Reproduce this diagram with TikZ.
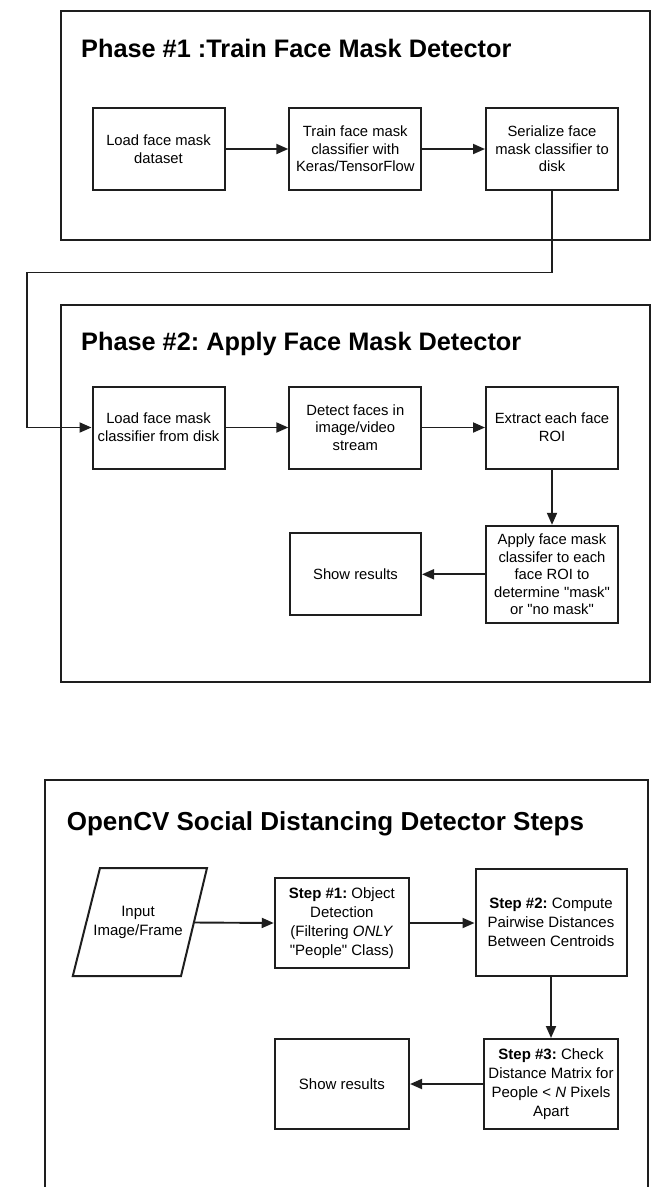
\documentclass[tikz,border=0pt]{standalone}
\usepackage{fontspec}
\setmainfont{Liberation Sans}[Ligatures=TeXOff]
\usetikzlibrary{arrows.meta}
\definecolor{ink}{HTML}{1E1E1E}
\begin{document}
\frenchspacing
\begin{tikzpicture}[x=1pt,y=-1pt,
  frame/.style={draw=ink,line width=2pt},
  box/.style={draw=ink,line width=2pt,fill=white,align=center,inner sep=2pt,
    font=\fontsize{14.8}{17.6}\selectfont},
  sbox/.style={box,font=\fontsize{15}{19}\selectfont},
  ttl/.style={anchor=base west,inner sep=0pt,font=\bfseries\fontsize{25.3}{30}\selectfont},
  arr/.style={draw=ink,line width=1.9pt,-{Triangle[length=12pt,width=10pt]}},
]
\useasboundingbox (0,0) rectangle (651,1187);

% ---------- Phase 1 ----------
\node[frame,anchor=north west,minimum width=589pt,minimum height=229pt,inner sep=0pt] (p1) at (60,10) {};
\node[ttl] (t1) at (81,57) {Phase \#1 :Train Face Mask Detector};
\node[box,minimum width=132pt,minimum height=82pt] (b1) at (158.5,149) {Load face mask\\dataset};
\node[box,minimum width=132pt,minimum height=82pt] (b2) at (355.3,149) {Train face mask\\classifier with\\Keras/TensorFlow};
\node[box,minimum width=132pt,minimum height=82pt] (b3) at (552,149) {Serialize face\\mask classifier to\\disk};
\draw[arr] (b1) -- (b2);
\draw[arr] (b2) -- (b3);

% ---------- Phase 2 ----------
\node[frame,anchor=north west,minimum width=589pt,minimum height=377pt,inner sep=0pt] (p2) at (60,304) {};
\node[ttl] (t2) at (81,350) {Phase \#2: Apply Face Mask Detector};
\node[box,minimum width=132pt,minimum height=82pt] (c1) at (158.5,427.5) {Load face mask\\classifier from disk};
\node[box,minimum width=132pt,minimum height=82pt] (c2) at (355.3,427.5) {Detect faces in\\image/video\\stream};
\node[box,minimum width=132pt,minimum height=82pt] (c3) at (552,427.5) {Extract each face\\ROI};
\node[box,minimum width=132pt,minimum height=97pt] (c4) at (552,574.3) {Apply face mask\\classifer to each\\face ROI to\\determine "mask"\\or "no mask"};
\node[box,minimum width=131pt,minimum height=82pt] (c5) at (355.5,574.3) {Show results};
\draw[arr] (c1) -- (c2);
\draw[arr] (c2) -- (c3);
\draw[arr] (c3) -- (c4);
\draw[arr] (c4) -- (c5);

% connector between phases
\coordinate (k1) at (552,272.5);
\coordinate (k2) at (27,272.5);
\draw[arr] (b3.south) -- (k1) -- (k2) |- (c1.west);

% ---------- Social distancing ----------
\draw[frame] (45,1195) -- (45,780) -- (648,780) -- (648,1195);
\node[ttl,font=\bfseries\fontsize{26}{30}\selectfont] (t3) at (66.6,830) {OpenCV Social Distancing Detector Steps};

\coordinate (q1) at (100,868);
\coordinate (q2) at (207,868);
\coordinate (q3) at (181,976);
\coordinate (q4) at (72.8,976);
\draw[frame,line join=miter] (q1) -- (q2) -- (q3) -- (q4) -- cycle;
\node[align=center,font=\fontsize{15}{19}\selectfont] (inp) at (138,922) {Input\\Image/Frame};
\coordinate (pr) at (194,922.5);

\node[sbox,minimum width=134.3pt,minimum height=90.6pt] (d1) at (341.9,923) {\textbf{Step \#1:} Object\\Detection\\(Filtering \textit{ONLY}\\"People" Class)};
\node[sbox,minimum width=151pt,minimum height=106.7pt] (d2) at (551,922.7) {\textbf{Step \#2:} Compute\\Pairwise Distances\\Between Centroids};
\node[sbox,minimum width=134pt,minimum height=90pt] (d3) at (551,1084) {\textbf{Step \#3:} Check\\Distance Matrix for\\People < \textit{N} Pixels\\Apart};
\node[sbox,minimum width=134.3pt,minimum height=90pt] (d4) at (341.9,1084) {Show results};

\draw[arr] (pr) -- (d1.west);
\draw[arr] (d1.east) -- (d2.west |- d1.east);
\draw[arr] (d2) -- (d3);
\draw[arr] (d3) -- (d4);
\end{tikzpicture}
\end{document}
